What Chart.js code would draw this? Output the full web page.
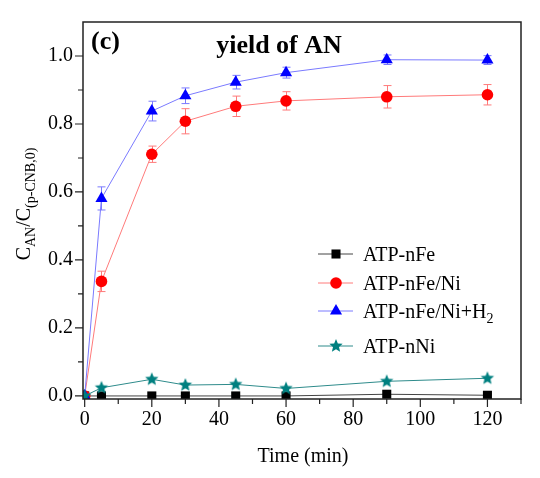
<!DOCTYPE html>
<html>
<head>
<meta charset="utf-8">
<script src="https://cdn.jsdelivr.net/npm/chart.js@4/dist/chart.umd.min.js"></script>
<style>
  html, body { margin: 0; padding: 0; background: #fff; }
  #wrap { width: 540px; height: 478px; }
</style>
</head>
<body>
<div id="wrap"><canvas id="yieldChart" width="540" height="478"></canvas></div>
<script>
// time axis (min) and AN yield for each catalyst
const times = [0, 5, 20, 30, 45, 60, 90, 120];
const nFe = [0, 0, 0, 0, 0, 0, 0.005, 0.002];
const nFeNi = [0, 0.337, 0.711, 0.808, 0.852, 0.868, 0.880, 0.886];
const nFeNiErr = [0, 0.030, 0.024, 0.037, 0.030, 0.027, 0.033, 0.030];
const nFeNiH2 = [0, 0.581, 0.838, 0.883, 0.923, 0.951, 0.989, 0.988];
const nFeNiH2Err = [0, 0.034, 0.029, 0.023, 0.020, 0.016, 0.014, 0.013];
const nNi = [0, 0.024, 0.049, 0.032, 0.034, 0.022, 0.043, 0.052];

const xTicks = [0, 20, 40, 60, 80, 100, 120];
const xMinor = [10, 30, 50, 70, 90, 110, 130];
const yTicks = [0, 0.2, 0.4, 0.6, 0.8, 1.0];
const yMinor = [0.1, 0.3, 0.5, 0.7, 0.9];

const SERIF = '"Liberation Serif", "DejaVu Serif", serif';

function pts(ys) {
    return times.map((t, i) => ({ x: t, y: ys[i] }));
}

// filled five point star for ATP-nNi
function starImage(r, color) {
    const c = document.createElement('canvas');
    c.width = c.height = r * 2 + 2;
    const g = c.getContext('2d');
    g.translate(r + 1, r + 1);
    g.beginPath();
    for (let i = 0; i < 10; i++) {
        const rad = i % 2 === 0 ? r : r * 0.45;
        const a = -Math.PI / 2 + i * Math.PI / 5;
        g.lineTo(rad * Math.cos(a), rad * Math.sin(a));
    }
    g.closePath();
    g.fillStyle = color;
    g.fill();
    return c;
}
const star = starImage(7, '#008080');

const series = [
    { label: 'ATP-nFe', data: nFe, line: '#444444', fill: '#000000', style: 'rect', r: 6.4 },
    { label: 'ATP-nFe/Ni', data: nFeNi, err: nFeNiErr, line: '#ff7a7a', fill: '#ff0000', style: 'circle', r: 5.8 },
    { label: 'ATP-nFe/Ni+H2', data: nFeNiH2, err: nFeNiH2Err, line: '#7a7aff', fill: '#0000ff', style: 'triangle', r: 7 },
    { label: 'ATP-nNi', data: nNi, line: '#2e8b8b', fill: '#008080', style: star, r: 7 }
];

// error bars, frame, ticks and texts
const decor = {
    id: 'decor',
    beforeDatasetsDraw(chart) {
        const ctx = chart.ctx, xs = chart.scales.x, ys = chart.scales.y;
        ctx.save();
        ctx.lineWidth = 1;
        series.forEach(s => {
            if (!s.err) return;
            ctx.strokeStyle = s.line;
            times.forEach((t, i) => {
                if (!s.err[i]) return;
                const px = Math.round(xs.getPixelForValue(t)) + 0.5;
                const top = ys.getPixelForValue(s.data[i] + s.err[i]);
                const bot = ys.getPixelForValue(s.data[i] - s.err[i]);
                ctx.beginPath();
                ctx.moveTo(px, top); ctx.lineTo(px, bot);
                ctx.moveTo(px - 4, top); ctx.lineTo(px + 4, top);
                ctx.moveTo(px - 4, bot); ctx.lineTo(px + 4, bot);
                ctx.stroke();
            });
        });
        ctx.restore();
    },
    afterDraw(chart) {
        const ctx = chart.ctx, a = chart.chartArea;
        const xs = chart.scales.x, ys = chart.scales.y;
        ctx.save();
        ctx.strokeStyle = '#222';
        ctx.lineWidth = 1.5;
        ctx.strokeRect(a.left, a.top, a.right - a.left, a.bottom - a.top);

        ctx.lineWidth = 1.2;
        ctx.beginPath();
        xTicks.forEach(v => { const p = xs.getPixelForValue(v); ctx.moveTo(p, a.bottom); ctx.lineTo(p, a.bottom + 8); });
        xMinor.forEach(v => { const p = xs.getPixelForValue(v); ctx.moveTo(p, a.bottom); ctx.lineTo(p, a.bottom + 5); });
        yTicks.forEach(v => { const p = ys.getPixelForValue(v); ctx.moveTo(a.left, p); ctx.lineTo(a.left - 8, p); });
        yMinor.forEach(v => { const p = ys.getPixelForValue(v); ctx.moveTo(a.left, p); ctx.lineTo(a.left - 5, p); });
        ctx.stroke();

        ctx.fillStyle = '#000';
        ctx.textBaseline = 'alphabetic';
        ctx.font = 'bold 26px ' + SERIF;
        ctx.textAlign = 'left';
        ctx.fillText('(c)', 91, 49);
        ctx.textAlign = 'center';
        ctx.fillText('yield of AN', 279, 53);

        ctx.font = '20px ' + SERIF;
        ctx.fillText('Time (min)', 303, 462);

        // y axis title with subscripts
        const parts = [['C', 20, 0], ['AN', 14, 5], ['/C', 20, 0], ['(p-CNB,0)', 14, 5]];
        let w = 0;
        parts.forEach(p => { ctx.font = p[1] + 'px ' + SERIF; w += ctx.measureText(p[0]).width; });
        ctx.translate(30, 204);
        ctx.rotate(-Math.PI / 2);
        ctx.textAlign = 'left';
        let x = -w / 2;
        parts.forEach(p => {
            ctx.font = p[1] + 'px ' + SERIF;
            ctx.fillText(p[0], x, p[2]);
            x += ctx.measureText(p[0]).width;
        });
        ctx.setTransform(1, 0, 0, 1, 0, 0);

        // legend
        const rowY = [254, 283, 311, 346];
        series.forEach((s, i) => {
            const y = rowY[i];
            ctx.strokeStyle = s.line;
            ctx.lineWidth = 1;
            ctx.beginPath();
            ctx.moveTo(318, y); ctx.lineTo(353, y);
            ctx.stroke();
            ctx.fillStyle = s.fill;
            Chart.helpers.drawPoint(ctx, { pointStyle: s.style, radius: s.r, rotation: 0, borderWidth: 0 }, 336, y);
            ctx.fillStyle = '#000';
            ctx.font = '20px ' + SERIF;
            ctx.textAlign = 'left';
            if (s.label === 'ATP-nFe/Ni+H2') {
                ctx.fillText('ATP-nFe/Ni+H', 363, y + 7);
                const tw = ctx.measureText('ATP-nFe/Ni+H').width;
                ctx.font = '14px ' + SERIF;
                ctx.fillText('2', 363 + tw, y + 12);
            } else {
                ctx.fillText(s.label, 363, y + 7);
            }
        });
        ctx.restore();
    }
};

new Chart(document.getElementById('yieldChart').getContext('2d'), {
    type: 'line',
    data: {
        datasets: series.map(s => ({
            label: s.label,
            data: pts(s.data),
            borderColor: s.line,
            borderWidth: 1,
            backgroundColor: s.fill,
            pointBackgroundColor: s.fill,
            pointBorderWidth: 0,
            pointStyle: s.style,
            pointRadius: s.r,
            tension: 0
        })).reverse()
    },
    options: {
        responsive: false,
        animation: false,
        devicePixelRatio: 1,
        layout: { padding: { top: 18, right: 19, left: 0, bottom: 0 } },
        plugins: { legend: { display: false }, tooltip: { enabled: false } },
        scales: {
            x: {
                type: 'linear',
                min: -0.5,
                max: 130,
                afterBuildTicks: sc => { sc.ticks = xTicks.map(v => ({ value: v })); },
                afterFit: sc => { sc.height = 79; },
                grid: { display: false, drawTicks: false },
                border: { display: false },
                ticks: { padding: 9, color: '#000', font: { family: SERIF, size: 20 }, maxRotation: 0 }
            },
            y: {
                min: -0.009,
                max: 1.1,
                afterBuildTicks: sc => { sc.ticks = yTicks.map(v => ({ value: v })); },
                afterFit: sc => { sc.width = 83; },
                grid: { display: false, drawTicks: false },
                border: { display: false },
                ticks: { padding: 10, color: '#000', font: { family: SERIF, size: 20 }, callback: v => v.toFixed(1) }
            }
        }
    },
    plugins: [decor]
});
</script>
</body>
</html>
